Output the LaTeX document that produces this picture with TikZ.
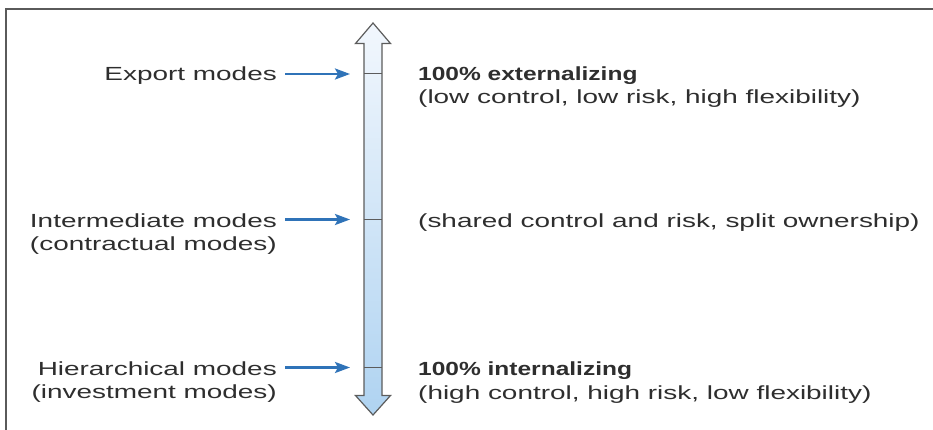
\documentclass[tikz,border=0pt]{standalone}
\usepackage{fontspec}
\setmainfont{Liberation Sans}[FakeStretch=1.47]
\newfontfamily\boldfam{Liberation Sans}[FakeStretch=1.29]
\usetikzlibrary{arrows.meta}
\definecolor{txt}{HTML}{2E2E2E}
\definecolor{arrblue}{HTML}{2F73B8}
\definecolor{frame}{HTML}{5A5A5A}
\definecolor{shtop}{HTML}{F2F7FD}
\definecolor{shbot}{HTML}{AFD3F1}
\definecolor{outl}{HTML}{5C5C5C}
\tikzset{
  lbl/.style={inner sep=0pt, text=txt, font=\fontsize{19}{23.5}\selectfont},
  bold lbl/.style={inner sep=0pt, text=txt, font=\fontsize{19}{23.5}\selectfont\boldfam\bfseries},
  bluearrow/.style={draw=arrblue, line width=2.4pt, -{Stealth[length=15pt,width=11pt,inset=3pt]}, shorten <=8pt},
  tickline/.style={draw=outl, line width=1pt},
}
\begin{document}
\begin{tikzpicture}[x=1pt,y=-1pt]
\useasboundingbox (0,0) rectangle (933,430);
% frame
\draw[frame, line width=1.5pt] (6,430) -- (6,9) -- (933,9);
% big double arrow
\path[draw=outl, line width=1.2pt, top color=shtop, bottom color=shbot, line join=miter]
  (373,23) -- (390.5,43.5) -- (382,43.5) -- (382,395.5) -- (390.5,395.5) -- (373,415)
  -- (355.5,395.5) -- (364,395.5) -- (364,43.5) -- (355.5,43.5) -- cycle;
% ticks
\coordinate (tE) at (350,74);
\coordinate (tI) at (350,219.5);
\coordinate (tH) at (350,367.5);
\draw[tickline] (364,74) -- (382,74);
\draw[tickline] (364,219.5) -- (382,219.5);
\draw[tickline] (364,367.5) -- (382,367.5);
% left labels
\node[lbl, anchor=base east] (exp) at (277,81) {Export modes};
\node[lbl, anchor=base east] (inter) at (277,227) {Intermediate modes};
\node[lbl, anchor=base east] (inter2) at (277,250.5) {(contractual modes)};
\node[lbl, anchor=base east] (hier) at (277,375.3) {Hierarchical modes};
\node[lbl, anchor=base east] (hier2) at (277,398.8) {(investment modes)};
% blue arrows
\draw[bluearrow] (exp.east |- tE) -- (tE);
\draw[bluearrow] (inter.east |- tI) -- (tI);
\draw[bluearrow] (hier.east |- tH) -- (tH);
% right labels
\node[bold lbl, anchor=base west] (ext) at (418,81) {100\% externalizing};
\node[lbl, anchor=base west] (ext2) at (418,104) {(low control, low risk, high flexibility)};
\node[lbl, anchor=base west] (shared) at (418,227) {(shared control and risk, split ownership)};
\node[bold lbl, anchor=base west] (int) at (418,375.8) {100\% internalizing};
\node[lbl, anchor=base west] (int2) at (418,399.3) {(high control, high risk, low flexibility)};
\end{tikzpicture}
\end{document}
